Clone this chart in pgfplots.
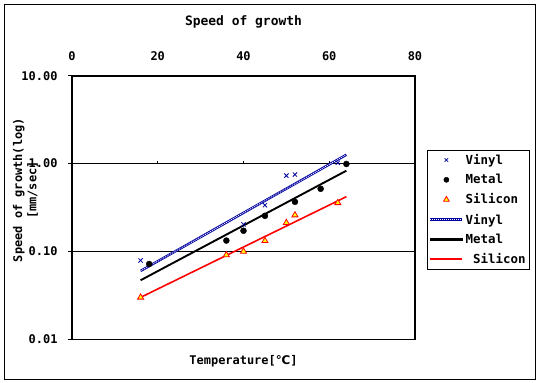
\documentclass[border=0pt]{standalone}
\usepackage{fontspec}
\setmainfont{DejaVu Sans Mono}
\newfontfamily\dvs{DejaVu Sans}
\usepackage{pgfplots}
\pgfplotsset{compat=1.18}
\definecolor{vinyl}{RGB}{0,0,160}
\definecolor{sired}{RGB}{255,0,0}
\definecolor{siyel}{RGB}{255,255,0}
\begin{document}
\begin{tikzpicture}[x=1bp,y=1bp,font=\bfseries\fontsize{12}{14.4}\selectfont]
\path[use as bounding box] (-72,-42.7) rectangle (468,339.3);
\draw[line width=0.8bp] (-68,-39.7) rectangle (463,335.3);
\begin{axis}[
  at={(0,0)}, anchor=south west,
  scale only axis, width=343bp, height=263.6bp,
  xmin=0, xmax=80, ymode=log, ymin=0.01, ymax=10,
  xtick={0,20,40,60,80}, xticklabels={0,20,40,60,80},
  xticklabel pos=upper, xtick style={draw=none},
  xticklabel style={anchor=center, yshift=16bp},
  ytick={0.01,0.1,1,10}, yticklabels={0.01,0.10,1.00,10.00},
  ytick pos=left, tick align=outside, major tick length=4bp,
  yminorticks=false,
  yticklabel style={anchor=east, xshift=-7bp},
  tick style={black, line width=0.8bp},
  axis line style={line width=1.6bp},
  title={\fontsize{13}{15}\selectfont Speed of growth},
  title style={at={(axis description cs:0.5,1)}, anchor=center, yshift=47.7bp},
  xlabel={Temperature[{\dvs ℃}]},
  xlabel style={at={(axis description cs:0.5,0)}, anchor=center, yshift=-22bp},
  ylabel={Speed of growth(log)\\\relax[mm/sec]},
  ylabel style={at={(axis description cs:-0.1356,0.566)}, anchor=center, align=center},
  legend style={at={(1.035,0.718)}, anchor=north west, draw=black, thin,
    font=\bfseries\fontsize{12.5}{15}\selectfont, row sep=4.5bp, inner sep=2bp},
  legend cell align=left,
  clip=false,
]
\addlegendimage{legend image code/.code={\draw[vinyl, line width=0.7bp] plot[mark=x, mark size=2.5bp] coordinates {(16bp,0bp)};}}
\addlegendentry{Vinyl}
\addlegendimage{legend image code/.code={\fill[black] (16bp,0bp) circle[radius=2.6bp];}}
\addlegendentry{Metal}
\addlegendimage{legend image code/.code={\draw[sired, fill=siyel, line width=0.8bp] plot[mark=triangle*, mark size=3.2bp] coordinates {(16bp,0bp)};}}
\addlegendentry{Silicon}
\addlegendimage{legend image code/.code={\draw[vinyl, line width=2.4bp] (0bp,0bp) -- (32bp,0bp); \draw[white, line width=0.8bp, dash pattern=on 1bp off 1bp] (0bp,0bp) -- (32bp,0bp);}}
\addlegendentry{Vinyl}
\addlegendimage{legend image code/.code={\fill[black] (0bp,-1.1bp) rectangle (32bp,1.1bp);}}
\addlegendentry{Metal}
\addlegendimage{legend image code/.code={\draw[sired, line width=1.8bp] (0bp,0bp) -- (32bp,0bp);}}
\addlegendentry{\ Silicon}

\draw[line width=0.8bp] (axis cs:0,1) -- (axis cs:80,1);
\draw[line width=1.6bp] (axis cs:0,0.1) -- (axis cs:80,0.1);
\draw[line width=0.8bp] (axis cs:20,1) -- ([yshift=3bp]axis cs:20,1);
\draw[line width=0.8bp] (axis cs:40,1) -- ([yshift=3bp]axis cs:40,1);
\draw[line width=0.8bp] (axis cs:60,1) -- ([yshift=3bp]axis cs:60,1);

\addplot[forget plot, draw=vinyl, line width=2.4bp] coordinates {(16,0.060) (64,1.26)};
\addplot[forget plot, draw=white, line width=0.8bp, dash pattern=on 1bp off 1bp] coordinates {(16,0.060) (64,1.26)};
\addplot[forget plot, draw=black, line width=1.9bp] coordinates {(16,0.047) (64,0.83)};
\addplot[forget plot, draw=sired, line width=1.6bp] coordinates {(16,0.030) (64,0.42)};

\addplot[forget plot, only marks, mark=x, mark size=3bp, color=vinyl, mark options={line width=0.8bp}] coordinates {(16,0.079) (40,0.203) (45,0.336) (50,0.73) (52,0.75) (62,1.02)};
\addplot[forget plot, only marks, mark=*, mark size=3bp, black] coordinates {(18,0.072) (36,0.133) (40,0.172) (45,0.254) (52,0.367) (58,0.516) (64,0.99)};
\addplot[forget plot, only marks, mark=triangle*, mark size=3.5bp, mark options={fill=siyel, draw=sired, line width=0.8bp}] coordinates {(16,0.030) (36,0.091) (40,0.10) (45,0.132) (50,0.212) (52,0.259) (62,0.357)};
\end{axis}
\end{tikzpicture}
\end{document}
